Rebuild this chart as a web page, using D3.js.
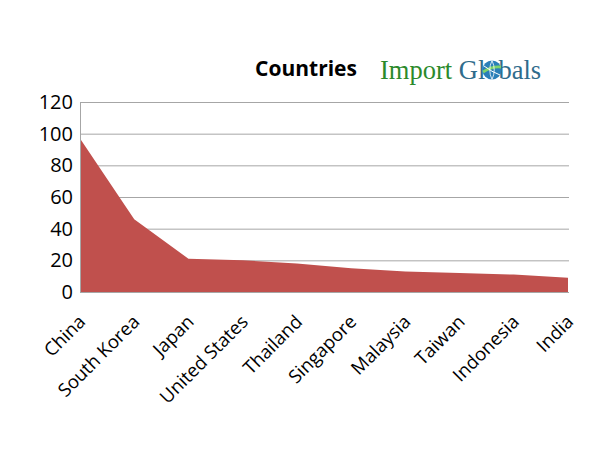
<!DOCTYPE html>
<html><head><meta charset="utf-8">
<script src="https://cdn.jsdelivr.net/npm/d3@7"></script>
<style>body{margin:0;background:#fff}svg{display:block}</style>
</head><body>
<script>
const categories = ["China","South Korea","Japan","United States","Thailand","Singapore","Malaysia","Taiwan","Indonesia","India"];
const values = [97, 46, 21, 20, 18, 15, 13, 12, 11, 9];
const yTicks = [0, 20, 40, 60, 80, 100, 120];

const W = 600, H = 450;
const m = {left: 80, right: 31, top: 102, bottom: 158};
const svg = d3.select("body").append("svg").attr("width", W).attr("height", H);

const x = d3.scalePoint().domain(categories).range([m.left, W - m.right - 1]);
const y = d3.scaleLinear().domain([0, 120]).range([H - m.bottom, m.top]);

// gridlines
svg.append("g").selectAll("line").data(yTicks).join("line")
  .attr("x1", m.left).attr("x2", W - m.right)
  .attr("y1", d => y(d) + 0.5).attr("y2", d => y(d) + 0.5)
  .attr("stroke", "#a6a6a6").attr("stroke-width", 1);

// area
const area = d3.area().x((d, i) => x(categories[i])).y0(y(0)).y1(d => y(d));
svg.append("path").datum(values).attr("d", area).attr("fill", "#C0504D");

// y axis line
svg.append("line").attr("x1", m.left + 0.5).attr("x2", m.left + 0.5)
  .attr("y1", y(120)).attr("y2", y(0)).attr("stroke", "#a6a6a6");

// y axis labels
const yAxis = d3.axisLeft(y).tickValues(yTicks).tickSize(0).tickPadding(7);
const gy = svg.append("g").attr("transform", `translate(${m.left},0)`).call(yAxis);
gy.select(".domain").remove();
gy.selectAll("text").attr("font-family", "Open Sans, sans-serif").attr("font-size", 20).attr("fill", "#000");

// x axis labels
const xAxis = d3.axisBottom(x).tickSize(0).tickPadding(0);
const gx = svg.append("g").attr("transform", `translate(0,${y(0)})`).call(xAxis);
gx.select(".domain").remove();
gx.selectAll("text")
  .attr("font-family", "Open Sans, sans-serif").attr("font-size", 18.5).attr("fill", "#000")
  .attr("text-anchor", "end").attr("dy", null).attr("y", null)
  .attr("transform", "translate(6,31) rotate(-45)");

// title
svg.append("text").attr("x", 306).attr("y", 76).attr("text-anchor", "middle")
  .attr("font-family", "Open Sans, sans-serif").attr("font-weight", "bold").attr("font-size", 21)
  .attr("fill", "#000").text("Countries");

// logo
const logo = svg.append("text").attr("x", 380).attr("y", 79)
  .attr("font-family", "Liberation Serif, DejaVu Serif, serif").attr("font-size", 26.5);
logo.append("tspan").attr("fill", "#2b8a2b").text("Import ");
logo.append("tspan").attr("fill", "#2f6c8c").text("Gl");
logo.append("tspan").attr("fill", "#2f6c8c").attr("fill-opacity", 0).text("o");
logo.append("tspan").attr("fill", "#2f6c8c").text("bals");
// globe glyph
const gG = svg.append("g").attr("transform", "translate(492,70)");
gG.append("circle").attr("r", 9.5).attr("fill", "#2a7fb8");
gG.append("path").attr("d", "M-9,2 Q0,-4 9,-3").attr("stroke", "#7fd46a").attr("stroke-width", 2.8).attr("fill", "none");
gG.append("path").attr("d", "M-8,-4 Q0,2 8,5").attr("stroke", "#ffffff").attr("stroke-width", 1).attr("fill", "none");
gG.append("path").attr("d", "M0,-9.5 Q-4.5,0 0,9.5 M0,-9.5 Q4.5,0 0,9.5").attr("stroke", "#ffffff").attr("stroke-width", 0.8).attr("fill", "none");
</script>
</body></html>
